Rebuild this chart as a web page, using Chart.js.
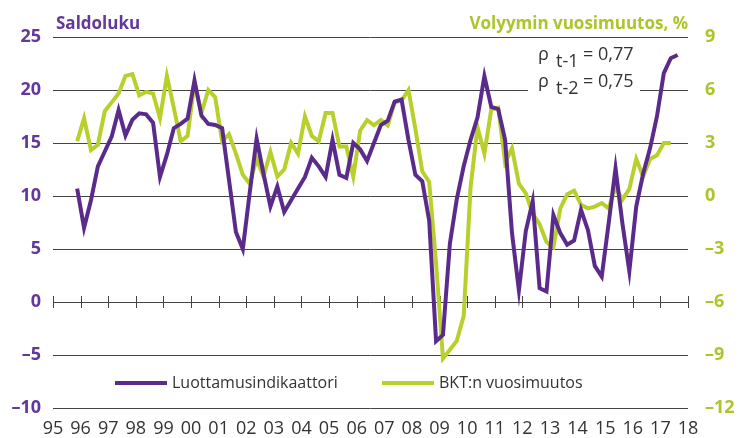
<!DOCTYPE html>
<html>
<head>
<meta charset="utf-8">
<script src="https://cdn.jsdelivr.net/npm/chart.js@4.4.1/dist/chart.umd.min.js"></script>
<style>
  html, body { margin: 0; padding: 0; background: #fff; }
  #wrap { width: 739px; height: 438px; }
</style>
</head>
<body>
<div id="wrap"><canvas id="chart" width="739" height="438"></canvas></div>
<script>
// quarterly data, first point = 1995 Q4
const firstYear = 1995;
const firstQuarter = 4;

const yearLabels = ['95','96','97','98','99','00','01','02','03','04','05','06',
  '07','08','09','10','11','12','13','14','15','16','17','18'];

// Luottamusindikaattori (saldoluku, left axis)
const confidence = [
  10.7, 7.0, 9.6, 12.8, 14.2, 15.6, 18.1, 15.7, 17.2, 17.8, 17.7, 16.9,
  11.8, 13.9, 16.4, 16.8, 17.3, 20.9, 17.6, 16.8, 16.7, 16.4, 11.5, 6.6,
  5.0, 10.3, 15.4, 12.1, 9.0, 10.9, 8.5, 9.6, 10.7, 11.8, 13.6, 12.8,
  11.8, 15.3, 12.0, 11.7, 15.0, 14.4, 13.3, 15.0, 16.7, 17.1, 18.9, 19.1,
  15.3, 12.0, 11.4, 7.7, -3.7, -3.1, 5.5, 9.7, 12.8, 15.3, 17.4, 21.3,
  18.4, 18.2, 15.3, 6.5, 1.1, 6.7, 9.5, 1.3, 1.0, 8.2, 6.5, 5.4,
  5.8, 8.7, 6.8, 3.4, 2.4, 7.4, 12.6, 7.4, 2.9, 9.0, 12.1, 14.5,
  17.5, 21.6, 23.0, 23.3
];

// BKT:n vuosimuutos (%, right axis)
const gdpGrowth = [
  3.1, 4.4, 2.6, 2.9, 4.8, 5.3, 5.8, 6.8, 6.9, 5.7, 5.9, 5.8,
  4.4, 6.8, 5.0, 3.1, 3.4, 6.4, 4.7, 6.0, 5.6, 3.1, 3.5, 2.4,
  1.2, 0.7, 2.1, 1.1, 2.5, 1.1, 1.5, 3.0, 2.4, 4.5, 3.4, 3.1,
  4.7, 4.7, 2.8, 2.8, 1.1, 3.7, 4.3, 4.0, 4.3, 4.0, 5.3, 5.4,
  6.0, 3.8, 1.4, 0.8, -3.8, -9.2, -8.7, -8.2, -6.8, 0.5, 3.9, 2.4,
  4.9, 5.0, 1.9, 2.7, 0.7, 0.15, -1.0, -1.6, -2.6, -2.9, -0.7, 0.1,
  0.3, -0.5, -0.7, -0.6, -0.4, -0.7, 0.5, -0.2, 0.4, 2.1, 1.1, 2.1,
  2.3, 3.0, 3.0
];

const PURPLE = '#5b2b8c';
const PURPLE_TXT = '#64379a';
const GREEN = '#b9d02c';
const GREEN_TXT = '#adc52a';
const GRID = '#444444';
const TEXT = '#333333';
const FONT = '"Open Sans", "Noto Sans", sans-serif';

function quarterX(i) {
  return firstYear + (firstQuarter - 0.5 + i) / 4;
}

const minus = v => (v < 0 ? '\u2013' + Math.abs(v) : String(v));

const decor = {
  id: 'decor',
  beforeDatasetsDraw(chart) {
    const { ctx, scales: { x, y } } = chart;
    const y0 = y.getPixelForValue(0);
    ctx.save();
    ctx.strokeStyle = GRID;
    ctx.lineWidth = 1;
    ctx.beginPath();
    for (let yr = x.min; yr <= x.max; yr++) {
      const px = Math.round(x.getPixelForValue(yr)) + 0.5;
      ctx.moveTo(px, y0 - 6);
      ctx.lineTo(px, y0 + 6);
    }
    ctx.stroke();
    // white box behind the correlation note
    ctx.fillStyle = '#fff';
    ctx.fillRect(528, 42, 112, 56);
    ctx.restore();
  },
  afterDraw(chart) {
    const { ctx } = chart;
    ctx.save();
    ctx.textBaseline = 'alphabetic';

    // axis titles
    ctx.font = 'bold 17px ' + FONT;
    ctx.fillStyle = PURPLE_TXT;
    ctx.textAlign = 'left';
    ctx.fillText('Saldoluku', 56, 29);
    ctx.fillStyle = GREEN_TXT;
    ctx.textAlign = 'right';
    ctx.fillText('Volyymin vuosimuutos, %', 688, 29);

    // correlation note
    ctx.fillStyle = TEXT;
    ctx.textAlign = 'left';
    ctx.font = '18px ' + FONT;
    [['t-1', '= 0,77', 60], ['t-2', '= 0,75', 87]].forEach(([sub, val, base]) => {
      ctx.fillText('\u03c1', 538, base);
      ctx.fillText(sub, 556, base + 7);
      ctx.fillText(val, 583, base);
    });

    // legend
    const items = [
      { ds: 0, x: 115 },
      { ds: 1, x: 382 }
    ];
    const ly = 383;
    ctx.textBaseline = 'middle';
    ctx.font = '16px ' + FONT;
    items.forEach(it => {
      const d = chart.data.datasets[it.ds];
      ctx.strokeStyle = d.borderColor;
      ctx.lineWidth = 4;
      ctx.beginPath();
      ctx.moveTo(it.x, ly);
      ctx.lineTo(it.x + 52, ly);
      ctx.stroke();
      ctx.fillStyle = TEXT;
      ctx.fillText(d.label, it.x + 57, ly);
    });
    ctx.restore();
  }
};

new Chart(document.getElementById('chart'), {
  type: 'line',
  data: {
    datasets: [
      {
        label: 'Luottamusindikaattori',
        data: confidence.map((v, i) => ({ x: quarterX(i), y: v })),
        yAxisID: 'y',
        borderColor: PURPLE,
        borderWidth: 4,
        pointRadius: 0,
        tension: 0
      },
      {
        label: 'BKT:n vuosimuutos',
        data: gdpGrowth.map((v, i) => ({ x: quarterX(i), y: v })),
        yAxisID: 'y1',
        borderColor: GREEN,
        borderWidth: 4,
        pointRadius: 0,
        tension: 0
      }
    ]
  },
  options: {
    responsive: false,
    animation: false,
    devicePixelRatio: 1,
    layout: { padding: { top: 37, left: 0, right: 0, bottom: 0 } },
    plugins: {
      legend: { display: false },
      tooltip: { enabled: false }
    },
    scales: {
      x: {
        type: 'linear',
        min: 1995,
        max: 2018,
        grid: { display: false, drawTicks: false },
        border: { display: false },
        afterBuildTicks: s => {
          s.ticks = yearLabels.map((_, k) => ({ value: firstYear + k }));
        },
        afterFit: s => { s.height = 30; },
        ticks: {
          autoSkip: false,
          maxRotation: 0,
          padding: 10,
          color: TEXT,
          font: { family: FONT, size: 18 },
          callback: v => yearLabels[v - firstYear]
        }
      },
      y: {
        position: 'left',
        min: -10,
        max: 25,
        grid: { color: GRID, lineWidth: 1, drawTicks: false },
        border: { display: false },
        afterFit: s => { s.width = 53; },
        ticks: {
          stepSize: 5,
          padding: 12,
          color: PURPLE_TXT,
          font: { family: FONT, size: 18, weight: 'bold' },
          callback: minus
        }
      },
      y1: {
        position: 'right',
        min: -12,
        max: 9,
        grid: { display: false, drawTicks: false },
        border: { display: false },
        afterFit: s => { s.width = 51; },
        ticks: {
          stepSize: 3,
          padding: 17,
          color: GREEN_TXT,
          font: { family: FONT, size: 18, weight: 'bold' },
          callback: minus
        }
      }
    }
  },
  plugins: [decor]
});
</script>
</body>
</html>
